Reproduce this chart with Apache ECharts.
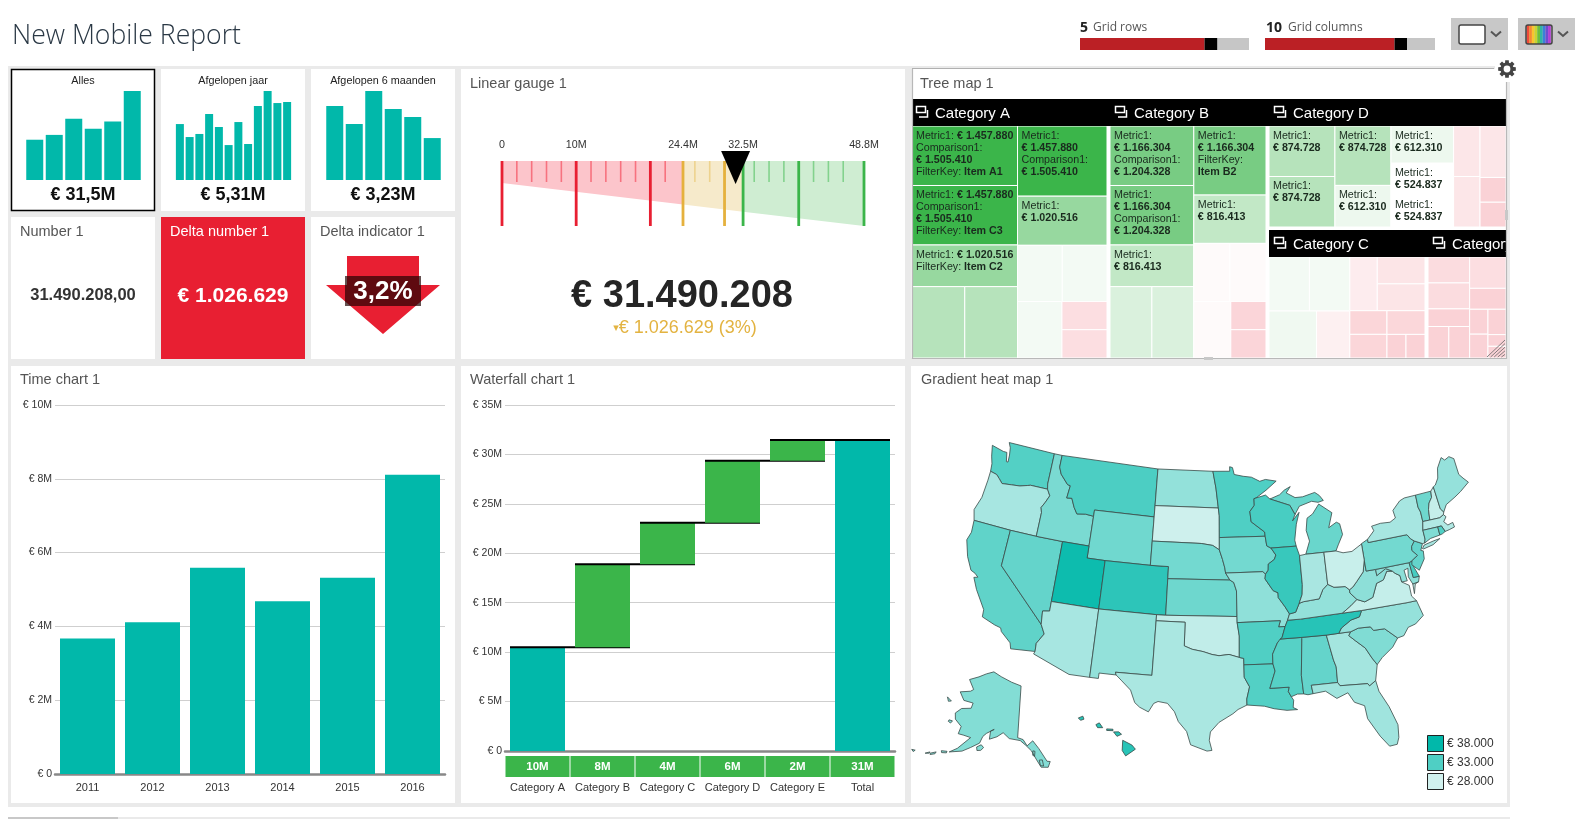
<!DOCTYPE html>
<html>
<head>
<meta charset="utf-8">
<title>New Mobile Report</title>
<style>
    html,body{margin:0;padding:0;background:#fff;overflow:hidden}
    #main{width:1585px;height:819px}
</style>
</head>
<body>
<div id="main"></div>
<script src="https://cdn.jsdelivr.net/npm/echarts@6/dist/echarts.min.js"></script>
<script type="text/javascript">
// small selector charts
const allLabels = ['2011', '2012', '2013', '2014', '2015', '2016'];
const allValues = [3.67, 4.11, 5.59, 4.68, 5.32, 8.11];
const yearLabels = ['jan', 'feb', 'mrt', 'apr', 'mei', 'jun', 'jul', 'aug', 'sep', 'okt', 'nov', 'dec'];
const yearValues = [0.418, 0.321, 0.344, 0.493, 0.396, 0.261, 0.433, 0.269, 0.553, 0.665, 0.575, 0.583];
const halfLabels = ['1', '2', '3', '4', '5', '6'];
const halfValues = [0.605, 0.458, 0.728, 0.581, 0.515, 0.343];

// gauge
const gaugeZones = [[0, 24.4], [24.4, 32.5], [32.5, 48.8]];
const gaugeLabels = [0, 10, 24.4, 32.5, 48.8];
const gaugeMajor = [0, 10, 20, 24.4, 30, 32.5, 40, 48.8];
const gaugeMinor = [2, 4, 6, 8, 12, 14, 16, 18, 22, 26, 28, 34, 36, 38, 42, 44, 46];
const gaugeValue = 31.49;

// waterfall
const fallCategories = ['Category A', 'Category B', 'Category C', 'Category D', 'Category E', 'Total'];
const fallLabels = ['10M', '8M', '4M', '6M', '2M', '31M'];
const fallSteps = [10.49, 8.39, 4.2, 6.29, 2.1, 31.47];
const fallBase = [0, 10.49, 18.88, 23.08, 29.37, 0];

// heat map
const stateNames = ['WA','OR','CA','NV','ID','MT','WY','UT','CO','AZ','NM','ND','SD','NE','KS','OK','TX','MN','IA','MO','AR','LA','MS','AL','GA','FL','SC','NC','TN','KY','VA','WV','MD','DE','PA','NJ','NY','VT','NH','ME','MA','CT','RI','MI','WI','IL','IN','OH','AK','HI'];
const stateValues = [32850,29600,32350,32200,31350,33200,31750,37200,35200,29600,30400,30400,28100,31600,31800,28600,29500,33000,31600,30550,32950,32850,32750,32200,29750,29900,31100,30300,35550,30400,28500,30600,30600,33600,31600,32200,29600,31800,28450,30300,29250,31100,32950,32000,33450,34500,29550,28350,31000,35500];

// tree map leaves: value and cell text
function fmt(v) { return String(v).replace(/\B(?=(\d{3})+$)/g, '.'); }
function L(v, text) { return { v: v, text: text || '' }; }
function H() { return { d: 'h', c: [].slice.call(arguments) }; }
function V() { return { d: 'v', c: [].slice.call(arguments) }; }
function metric(v) { return 'Metric1:\n{b|€ ' + fmt(v) + '}'; }
const M1 = 1457880, M2 = 1166304, M3 = 1020516, M4 = 874728, M5 = 816413, M6 = 612310, M7 = 524837;
const C1 = '€ 1.505.410', C2 = '€ 1.204.328';
const treeA = H(
    V(L(M1, 'Metric1: {b|€ 1.457.880}\nComparison1:\n{b|' + C1 + '}\nFilterKey: {b|Item A1}'),
      L(M1, 'Metric1: {b|€ 1.457.880}\nComparison1:\n{b|' + C1 + '}\nFilterKey: {b|Item C3}'),
      L(M3, 'Metric1: {b|€ 1.020.516}\nFilterKey: {b|Item C2}'),
      H(L(M4), L(M4))),
    V(L(M1, metric(M1) + '\nComparison1:\n{b|' + C1 + '}'),
      L(M3, metric(M3)),
      H(L(583000), L(583000)),
      H(L(583000), V(L(296000), L(296000))))
);
const treeB = H(
    V(L(M2, metric(M2) + '\nComparison1:\n{b|' + C2 + '}'),
      L(M2, metric(M2) + '\nComparison1:\n{b|' + C2 + '}'),
      L(M5, metric(M5)),
      H(L(699782), L(699782))),
    V(L(M2, metric(M2) + '\nFilterKey:\n{b|Item B2}'),
      L(M5, metric(M5)),
      H(L(490000), L(490000)),
      H(L(490000), V(L(233000), L(233000))))
);
const treeD = H(
    V(L(M4, metric(M4)), L(M4, metric(M4))),
    V(L(M4, metric(M4)), L(M6, metric(M6))),
    V(L(M6, metric(M6)), L(M7, metric(M7)), L(M7, metric(M7))),
    V(L(351000), L(351000)),
    V(L(351000), L(169000), L(169000))
);
const treeC = H(
    V(H(L(584000), L(584000)), H(L(597000), L(419000))),
    V(H(L(394000), V(L(343000), L(343000))),
      H(V(L(235000), L(235000)), V(L(241000), H(L(120000), L(120000)))))
);
const treeE = H(
    V(L(277000), L(277000), L(188000), H(L(168000), L(168000))),
    V(L(292000), L(195000), H(V(L(117000), L(112000)), V(L(117000), L(54000), L(54000))))
);
const treeHeaders = ['Category A', 'Category B', 'Category D', 'Category C', 'Category E'];

// US outline, simplified lon/lat
const usa = {
WA:[[[-124.7,48.38],[-123.2,48.15],[-122.75,48.15],[-122.5,47.4],[-122.3,47.4],[-122.35,48],[-122.5,48.6],[-122.8,49],[-117.03,49],[-117.04,46.42],[-116.92,45.995],[-118.98,46],[-119.3,45.93],[-120.2,45.73],[-121.2,45.65],[-122.3,45.55],[-122.8,45.9],[-123.2,46.15],[-124,46.27],[-124.1,46.9],[-124.4,47.5]]],
OR:[[[-124,46.27],[-123.2,46.15],[-122.8,45.9],[-122.3,45.55],[-121.2,45.65],[-120.2,45.73],[-119.3,45.93],[-118.98,46],[-116.92,45.995],[-116.5,45.5],[-116.85,44.9],[-117.2,44.4],[-117.03,44],[-117.03,42],[-120,42],[-124.2,42],[-124.55,42.85],[-124.1,44],[-124,45.5]]],
CA:[[[-124.2,42],[-120,42],[-120,39],[-114.63,35],[-114.15,34.27],[-114.75,33.4],[-114.72,32.72],[-117.12,32.53],[-117.3,33],[-118.4,33.75],[-118.55,34.03],[-119.2,34.15],[-120.6,34.55],[-120.65,35.15],[-121.9,36.6],[-122.5,37.5],[-122.1,37.6],[-122.5,37.85],[-123,38],[-123.75,39],[-124.35,40.3],[-124.1,41]]],
NV:[[[-120,42],[-117.03,42],[-114.04,42],[-114.04,37],[-114.04,36.2],[-114.75,36.1],[-114.63,35],[-120,39]]],
ID:[[[-117.03,49],[-116.05,49],[-116.05,48],[-115.7,47.45],[-114.7,46.7],[-114.35,46.65],[-114.5,45.6],[-113.9,45.65],[-113.45,44.95],[-113,44.45],[-112,44.55],[-111.05,44.48],[-111.05,42],[-114.04,42],[-117.03,42],[-117.03,44],[-117.2,44.4],[-116.85,44.9],[-116.5,45.5],[-116.92,45.995],[-117.04,46.42]]],
MT:[[[-116.05,49],[-104.05,49],[-104.05,45.94],[-104.05,45],[-111.05,45],[-111.05,44.48],[-112,44.55],[-113,44.45],[-113.45,44.95],[-113.9,45.65],[-114.5,45.6],[-114.35,46.65],[-114.7,46.7],[-115.7,47.45],[-116.05,48]]],
WY:[[[-111.05,45],[-104.05,45],[-104.05,43],[-104.05,41],[-109.05,41],[-111.05,41],[-111.05,42],[-111.05,44.48]]],
UT:[[[-114.04,42],[-111.05,42],[-111.05,41],[-109.05,41],[-109.05,37],[-114.04,37]]],
CO:[[[-109.05,41],[-104.05,41],[-102.05,41],[-102.05,40],[-102.05,37],[-103,37],[-109.05,37]]],
AZ:[[[-114.04,37],[-109.05,37],[-109.05,31.33],[-111.07,31.33],[-114.81,32.5],[-114.72,32.72],[-114.75,33.4],[-114.15,34.27],[-114.63,35],[-114.75,36.1],[-114.04,36.2]]],
NM:[[[-109.05,37],[-103,37],[-103,36.5],[-103.05,32],[-106.62,32],[-106.53,31.78],[-108.2,31.78],[-108.2,31.33],[-109.05,31.33]]],
ND:[[[-104.05,49],[-97.23,49],[-96.85,47.6],[-96.56,45.94],[-104.05,45.94]]],
SD:[[[-104.05,45.94],[-96.56,45.94],[-96.45,45.3],[-96.45,43.5],[-96.45,42.49],[-97.2,42.85],[-98.5,43],[-104.05,43]]],
NE:[[[-104.05,43],[-98.5,43],[-97.2,42.85],[-96.45,42.49],[-96.1,41.7],[-95.85,41],[-95.77,40.58],[-95.31,40],[-102.05,40],[-102.05,41],[-104.05,41]]],
KS:[[[-102.05,40],[-95.31,40],[-94.9,39.8],[-94.62,39.1],[-94.62,37],[-102.05,37]]],
OK:[[[-103,37],[-102.05,37],[-94.62,37],[-94.62,36.5],[-94.43,35.4],[-94.48,33.64],[-95.5,33.9],[-96.5,33.8],[-97.2,33.9],[-98.1,34.13],[-99.2,34.3],[-100,34.56],[-100,36.5],[-103,36.5]]],
TX:[[[-106.62,32],[-103.05,32],[-103,36.5],[-100,36.5],[-100,34.56],[-99.2,34.3],[-98.1,34.13],[-97.2,33.9],[-96.5,33.8],[-95.5,33.9],[-94.48,33.64],[-94.04,33.55],[-94.04,33.02],[-94.04,32],[-93.55,31.2],[-93.85,30.2],[-93.85,29.7],[-94.7,29.35],[-95.2,29],[-96.5,28.3],[-97.3,27.5],[-97.4,26.8],[-97.15,25.96],[-97.6,25.9],[-99.1,26.4],[-99.5,27.5],[-100.3,28.3],[-100.7,29.1],[-101.4,29.77],[-102.3,29.88],[-102.7,29.7],[-103.15,28.97],[-104,29.3],[-104.5,29.65],[-105,30.65],[-106,31.4],[-106.53,31.78]]],
MN:[[[-97.23,49],[-95.15,49],[-95.15,49.38],[-94.8,49.3],[-94.6,48.72],[-93.5,48.55],[-92.5,48.45],[-91.5,48.07],[-90.8,48.2],[-89.5,48],[-90.8,47.3],[-92.05,46.7],[-92.3,46.65],[-92.3,46.1],[-92.85,45.6],[-92.75,44.75],[-91.25,43.85],[-91.22,43.5],[-96.45,43.5],[-96.45,45.3],[-96.56,45.94],[-96.85,47.6]]],
IA:[[[-96.45,43.5],[-91.22,43.5],[-91.1,42.7],[-90.64,42.5],[-90.15,41.9],[-90.35,41.55],[-91.05,41.2],[-91.1,40.7],[-91.42,40.38],[-91.7,40.6],[-95.77,40.58],[-95.85,41],[-96.1,41.7],[-96.45,42.49]]],
MO:[[[-95.77,40.58],[-91.7,40.6],[-91.42,40.38],[-91.5,40],[-90.7,39],[-90.2,38.8],[-90.2,38.4],[-89.55,37.6],[-89.15,37],[-89.4,36.5],[-89.7,36],[-90.37,36],[-90.15,36.5],[-94.62,36.5],[-94.62,37],[-94.62,39.1],[-94.9,39.8],[-95.31,40]]],
AR:[[[-94.62,36.5],[-90.15,36.5],[-90.37,36],[-89.7,36],[-90.1,35.1],[-90.6,34.7],[-91.15,33.8],[-91.17,33],[-94.04,33.02],[-94.04,33.55],[-94.48,33.64],[-94.43,35.4]]],
LA:[[[-94.04,33.02],[-91.17,33],[-91,32.4],[-91.6,31],[-89.73,31],[-89.85,30.65],[-89.6,30.2],[-89.4,29.9],[-89.5,29.3],[-89.1,29.1],[-90.1,29.1],[-91.3,29.3],[-92.2,29.55],[-93.85,29.7],[-93.85,30.2],[-93.55,31.2],[-94.04,32]]],
MS:[[[-91.17,33],[-91.15,33.8],[-90.6,34.7],[-90.3,35],[-88.2,35],[-88.1,34.9],[-88.47,31.9],[-88.4,30.35],[-89,30.38],[-89.6,30.2],[-89.85,30.65],[-89.73,31],[-91.6,31],[-91,32.4]]],
AL:[[[-88.2,35],[-85.6,34.98],[-85.18,32.87],[-85,32.3],[-85.05,31],[-87.6,31],[-87.5,30.3],[-88,30.25],[-88.4,30.35],[-88.47,31.9],[-88.1,34.9]]],
GA:[[[-85.6,34.98],[-84.32,35],[-83.1,35],[-83.35,34.7],[-82.75,34.2],[-81.9,33.5],[-81.4,32.6],[-81,32],[-81.4,30.72],[-82.05,30.36],[-82.2,30.57],[-84.86,30.71],[-85.05,31],[-85,32.3],[-85.18,32.87]]],
FL:[[[-87.6,31],[-85.05,31],[-84.86,30.71],[-82.2,30.57],[-82.05,30.36],[-81.4,30.72],[-81.25,29.8],[-80.55,28.4],[-80.03,26.8],[-80.15,25.75],[-80.4,25.2],[-81.1,25.15],[-81.8,26.1],[-82.7,27.7],[-82.8,28.8],[-83.7,29.2],[-84.2,30.05],[-85.3,29.7],[-86.3,30.4],[-87.5,30.3]]],
SC:[[[-83.35,34.7],[-83.1,35],[-82.3,35.2],[-81.05,35.15],[-80.8,34.82],[-79.67,34.8],[-78.55,33.86],[-79.2,33.2],[-80.4,32.5],[-81,32],[-81.4,32.6],[-81.9,33.5],[-82.75,34.2]]],
NC:[[[-84.32,35],[-83.1,35],[-82.3,35.2],[-81.05,35.15],[-80.8,34.82],[-79.67,34.8],[-78.55,33.86],[-77.9,33.95],[-77.3,34.55],[-76.5,34.7],[-75.55,35.25],[-75.9,36.55],[-76.9,36.55],[-81.68,36.59],[-82,36.1],[-82.9,35.95],[-84,35.4]]],
TN:[[[-90.3,35],[-88.2,35],[-85.6,34.98],[-84.32,35],[-84,35.4],[-82.9,35.95],[-82,36.1],[-81.68,36.59],[-83.68,36.6],[-88.05,36.5],[-89.4,36.5],[-89.7,36],[-90.1,35.1]]],
KY:[[[-89.4,36.5],[-88.05,36.5],[-83.68,36.6],[-82.7,37.1],[-81.97,37.54],[-82.6,38.15],[-82.6,38.42],[-83,38.73],[-84.2,38.8],[-84.82,39.1],[-85.4,38.73],[-85.9,38],[-86.8,37.95],[-87.6,37.9],[-88.05,37.8],[-88.5,37.1],[-89.15,37]]],
VA:[[[-83.68,36.6],[-81.68,36.59],[-76.9,36.55],[-75.9,36.55],[-76.3,37],[-76.3,37.9],[-77,38.3],[-77.05,38.85],[-77.5,39.1],[-77.75,39.33],[-78.35,39.4],[-78.87,38.76],[-79.65,38.58],[-80.3,37.5],[-81.2,37.25],[-81.97,37.54],[-82.7,37.1]],[[-75.95,37.15],[-75.65,37.9],[-75.25,38.03],[-75.9,37.95]]],
WV:[[[-81.97,37.54],[-81.2,37.25],[-80.3,37.5],[-79.65,38.58],[-78.87,38.76],[-78.35,39.4],[-77.75,39.33],[-78.4,39.63],[-79.48,39.2],[-79.48,39.72],[-80.52,39.72],[-80.52,40.64],[-80.85,39.7],[-81.7,39],[-82.2,38.6],[-82.6,38.42],[-82.6,38.15]]],
MD:[[[-79.48,39.72],[-75.79,39.72],[-75.7,38.46],[-75.05,38.45],[-75.25,38.03],[-75.9,37.95],[-76.2,38.6],[-76.05,39.3],[-76.5,39.2],[-76.4,38.3],[-77,38.3],[-77.05,38.85],[-77.5,39.1],[-77.75,39.33],[-78.4,39.63],[-79.48,39.2]]],
DE:[[[-75.79,39.72],[-75.45,39.82],[-75.4,39.3],[-75.05,38.45],[-75.7,38.46]]],
PA:[[[-80.52,40.64],[-80.52,42],[-79.76,42.27],[-79.76,42],[-75.35,42],[-75.05,41.6],[-74.7,41.36],[-75.13,40.97],[-75.2,40.65],[-74.72,40.15],[-75.45,39.82],[-75.79,39.72],[-79.48,39.72],[-80.52,39.72]]],
NJ:[[[-74.7,41.36],[-73.9,41],[-74.25,40.48],[-74,40.4],[-74.1,39.75],[-74.9,38.93],[-75.55,39.5],[-75.45,39.82],[-74.72,40.15],[-75.2,40.65],[-75.13,40.97]]],
NY:[[[-79.76,42.27],[-79.76,42],[-75.35,42],[-75.05,41.6],[-74.7,41.36],[-73.9,41],[-73.65,41],[-73.5,41.3],[-73.5,42.05],[-73.27,42.75],[-73.25,43.55],[-73.4,44],[-73.34,45.01],[-74.7,45],[-75.3,44.85],[-76.3,44.2],[-76.2,43.55],[-76.9,43.3],[-78,43.37],[-79.05,43.27],[-78.9,42.87]],[[-74.03,40.6],[-73.75,40.85],[-72.6,41],[-71.9,41.05],[-72.8,40.7],[-73.9,40.55]]],
VT:[[[-73.34,45.01],[-71.5,45.01],[-71.6,44.5],[-72.05,44.1],[-72.3,43.6],[-72.46,42.73],[-73.27,42.75],[-73.25,43.55],[-73.4,44]]],
NH:[[[-71.5,45.01],[-71.08,45.3],[-70.98,43.4],[-70.7,43.07],[-70.82,42.87],[-71.3,42.7],[-72.46,42.73],[-72.3,43.6],[-72.05,44.1],[-71.6,44.5]]],
ME:[[[-71.08,45.3],[-70.8,45.4],[-70.3,45.9],[-70,46.7],[-69.23,47.46],[-68.9,47.18],[-68.3,47.35],[-67.8,47.07],[-67.8,45.7],[-67.45,45.3],[-67,44.85],[-68.2,44.3],[-69,44],[-70.2,43.6],[-70.7,43.07],[-70.98,43.4]]],
MA:[[[-73.5,42.05],[-73.27,42.75],[-72.46,42.73],[-71.3,42.7],[-70.82,42.87],[-70.6,42.65],[-71,42.3],[-70.65,41.95],[-70.05,42.05],[-70,41.65],[-70.65,41.55],[-71.13,41.5],[-71.38,42.02],[-71.8,42.02]]],
CT:[[[-73.5,42.05],[-71.8,42.02],[-71.8,41.33],[-72.9,41.25],[-73.65,41],[-73.5,41.3]]],
RI:[[[-71.8,42.02],[-71.38,42.02],[-71.13,41.5],[-71.5,41.37],[-71.8,41.33]]],
MI:[[[-86.82,41.76],[-84.8,41.75],[-83.45,41.73],[-83.1,42.2],[-82.45,43],[-82.6,43.9],[-82.95,44.07],[-83.9,43.7],[-83.3,44.9],[-84.7,45.75],[-85.55,45],[-86.25,44.7],[-86.5,43.7],[-86.25,42.8]],[[-90.4,46.55],[-88.1,45.9],[-87.6,45.1],[-87,45.75],[-85.5,46.05],[-84.75,45.9],[-84.1,46],[-84.5,46.45],[-85,46.75],[-86.5,46.5],[-87.4,46.5],[-88.4,46.95],[-87.85,47.45],[-88.6,47.2],[-89.2,46.85]]],
WI:[[[-92.3,46.65],[-92.05,46.7],[-90.9,46.9],[-90.4,46.55],[-88.1,45.9],[-87.6,45.1],[-87.95,44.6],[-87.1,45.25],[-87.55,44.3],[-87.9,43],[-87.8,42.5],[-90.64,42.5],[-91.1,42.7],[-91.22,43.5],[-91.25,43.85],[-92.75,44.75],[-92.85,45.6],[-92.3,46.1]]],
IL:[[[-90.64,42.5],[-87.8,42.5],[-87.53,41.7],[-87.53,39.3],[-87.65,38.5],[-88.05,37.8],[-88.5,37.1],[-89.15,37],[-89.55,37.6],[-90.2,38.4],[-90.2,38.8],[-90.7,39],[-91.5,40],[-91.42,40.38],[-91.1,40.7],[-91.05,41.2],[-90.35,41.55],[-90.15,41.9]]],
IN:[[[-87.53,41.7],[-86.82,41.76],[-84.8,41.75],[-84.82,39.1],[-85.4,38.73],[-85.9,38],[-86.8,37.95],[-87.6,37.9],[-88.05,37.8],[-87.65,38.5],[-87.53,39.3]]],
OH:[[[-84.8,41.75],[-83.45,41.73],[-82.7,41.5],[-81.7,41.5],[-80.52,41.98],[-80.52,40.64],[-80.85,39.7],[-81.7,39],[-82.2,38.6],[-82.6,38.42],[-83,38.73],[-84.2,38.8],[-84.82,39.1]]],
AK:[[[-141,69.65],[-141,60.3],[-139,60],[-137.5,58.9],[-135.5,59.8],[-133.5,58.4],[-131,56],[-130,55.9],[-130.8,54.9],[-133,55],[-134.5,56.5],[-136,58],[-138,59],[-140,59.8],[-144,60],[-146.5,60.9],[-148.5,60],[-151,59.3],[-151.2,60.8],[-150,61.2],[-152.5,60.2],[-153.5,59.5],[-154,58.2],[-156.5,57],[-158.8,55.9],[-162.5,54.95],[-160.5,56.1],[-157.5,58.7],[-160,58.7],[-162,58.6],[-162,60],[-165,60.8],[-166,61.8],[-164.5,63],[-161,63.7],[-161,64.7],[-165,64.5],[-168,65.6],[-164,66.5],[-163,67],[-166.7,68.35],[-163,69.5],[-160,70.5],[-156.5,71.3],[-152,70.8],[-146,70.15]],[[-152.3,57.6],[-153.3,58],[-154.6,57.4],[-154.2,56.8],[-153,57]],[[-164.9,54.6],[-163.2,54.9],[-163.2,54.6],[-164.6,54.3]],[[-167.7,53.3],[-166.2,54],[-166.3,53.6],[-167.5,53.1]],[[-169,52.9],[-167.9,53.5],[-168,53.2]],[[-173,52.3],[-172,52.5],[-172.3,52.1]],[[-167,60.2],[-165.7,60.3],[-166,59.8],[-167,59.9]],[[-171.7,63.7],[-169.5,63.4],[-170.5,63.1]],[[-135.5,58],[-134.8,57.9],[-135,57],[-135.6,57.2]],[[-133.5,56.3],[-132.5,56.3],[-132.2,55.2],[-133.2,55.3]]],
HI:[[[-159.8,22.1],[-159.4,22.25],[-159.3,22],[-159.6,21.9]],[[-158.25,21.55],[-157.95,21.7],[-157.65,21.3],[-158.1,21.3]],[[-157.3,21.2],[-156.75,21.17],[-156.75,21.05],[-157.3,21.07]],[[-156.7,20.95],[-156.25,20.95],[-156,20.75],[-156.4,20.58]],[[-155.9,20.25],[-155.1,19.85],[-154.8,19.5],[-155.65,18.95],[-155.95,19.4]]]
};

// conic equal-area, Alaska and Hawaii moved next to the mainland
function albers(p, p1, p2, lon0, lat0) {
    const r = Math.PI / 180, s1 = Math.sin(p1 * r), n = (s1 + Math.sin(p2 * r)) / 2;
    const C = Math.cos(p1 * r) * Math.cos(p1 * r) + 2 * n * s1;
    const rho0 = Math.sqrt(C - 2 * n * Math.sin(lat0 * r)) / n;
    const rho = Math.sqrt(C - 2 * n * Math.sin(p[1] * r)) / n, th = n * (p[0] - lon0) * r;
    return [rho * Math.sin(th), rho0 - rho * Math.cos(th)];
}
function projectState(name, p) {
    if (name === 'AK') {
        // turned about 15 degrees, the panhandle hangs lower than the peninsula
        const a = albers(p, 55, 65, -154, 58.5);
        return [0.457 * (0.966 * a[0] + 0.2588 * a[1]) - 0.342, 0.4595 * (-0.2588 * a[0] + 0.966 * a[1]) - 0.2103];
    }
    if (name === 'HI') {
        const h = albers(p, 8, 18, -157, 19.9);
        return [h[0] - 0.155, h[1] - 0.2146];
    }
    return albers(p, 29.5, 45.5, -96.6, 38.7);
}
const mapKX = 696, mapKY = 692, mapX = 1218, mapY = 596;
let minX = 9, maxX = -9, minY = 9, maxY = -9;
const usaFeatures = stateNames.map(function (name) {
    const polys = usa[name].map(function (ring) {
        return [ring.concat([ring[0]]).map(function (p) {
            const q = projectState(name, p);
            minX = Math.min(minX, q[0]); maxX = Math.max(maxX, q[0]);
            minY = Math.min(minY, q[1]); maxY = Math.max(maxY, q[1]);
            return q;
        })];
    });
    return { type: 'Feature', properties: { name: name }, geometry: { type: 'MultiPolygon', coordinates: polys } };
});
echarts.registerMap('USA', { type: 'FeatureCollection', features: usaFeatures });

// tree map layout, cell sizes come from the values
function total(n) { return n.c ? n.c.reduce(function (s, k) { return s + total(k); }, 0) : n.v; }
function sliceTree(n, x, y, w, h, out) {
    if (!n.c) { out.push({ x: x, y: y, w: w, h: h, v: n.v, text: n.text }); return; }
    const sum = total(n);
    let pos = 0;
    n.c.forEach(function (k) {
        const f = total(k) / sum;
        if (n.d === 'h') sliceTree(k, x + pos * w, y, w * f, h, out);
        else sliceTree(k, x, y + pos * h, w, h * f, out);
        pos += f;
    });
}
function cellColor(v) {
    const mid = 524837;
    let c, t;
    if (v >= mid) { c = [59, 181, 74]; t = (v - mid) / (1457880 - mid); }
    else { c = [232, 31, 50]; t = Math.min(0.2, (mid - v) / 1574511); }
    return 'rgb(' + c.map(function (ch) { return Math.round(255 + (ch - 255) * t); }).join(',') + ')';
}
const treeCells = [];
sliceTree(treeA, 912, 126, 195, 232, treeCells);
sliceTree(treeB, 1110, 126, 156, 232, treeCells);
sliceTree(treeD, 1269, 126, 237, 101, treeCells);
sliceTree(treeC, 1269, 257, 156, 101, treeCells);
sliceTree(treeE, 1428, 257, 78, 101, treeCells);

const base = '"Liberation Sans", Arial, sans-serif';
const teal = '#01B8AA', green = '#3BB54A', red = '#E81F32', amber = '#E5B13D';
const zoneColor = [red, amber, green];
const zoneLight = ['#FCC5CB', '#F6EACB', '#CFEDD2'];
const minorColor = ['#F7727F', '#EDD28E', '#83D28D'];
function zoneOf(v) { return v < 24.4 ? 0 : v < 32.5 ? 1 : 2; }
function wedge(v) { return 22 + 43 * v / 48.8; }

// page furniture
const g = [];
function rect(x, y, w, h, fill, z, extra) {
    g.push(Object.assign({ type: 'rect', shape: { x: x, y: y, width: w, height: h }, style: { fill: fill }, z: z || 0, silent: true }, extra || {}));
}
function txt(x, y, text, font, fill, align, z, extra) {
    g.push({ type: 'text', x: x, y: y, z: z || 1, silent: true, style: Object.assign({ text: text, font: font, fill: fill || '#444', textAlign: align || 'left', textVerticalAlign: 'middle' }, extra || {}) });
}
function line(points, color, width, z) {
    g.push({ type: 'polyline', shape: { points: points }, style: { stroke: color, lineWidth: width, fill: null }, z: z || 1, silent: true });
}

rect(8, 66, 1502, 741, '#EAEAEA');
[[11, 69, 144, 142], [161, 69, 144, 142], [311, 69, 144, 142], [11, 217, 144, 142], [311, 217, 144, 142],
 [461, 69, 444, 290], [912, 69, 594, 289], [11, 366, 444, 437], [461, 366, 444, 437], [911, 366, 596, 437]].forEach(function (p) {
    rect(p[0], p[1], p[2], p[3], '#fff');
});
rect(161, 217, 144, 142, red);
rect(8, 817, 1502, 2, '#EAEAEA');
rect(8, 817, 110, 2, '#C8C8C8');
rect(11.5, 69.5, 143, 141, 'none', 1, { style: { fill: 'none', stroke: '#000', lineWidth: 1.5 } });

// tree map frame, open around the gear
rect(1495, 64, 16, 18, '#fff', 1);
line([[912, 68.5], [1494, 68.5]], '#B0B0B0', 1.2, 6);
line([[912.5, 69], [912.5, 358.5], [1506.5, 358.5], [1506.5, 82]], '#B8B8B8', 1.2, 6);
const gearPts = [];
for (let i = 0; i < 8; i++) {
    const a = i * Math.PI / 4;
    [[-0.3, 6.6], [-0.2, 9], [0.2, 9], [0.3, 6.6]].forEach(function (t) {
        gearPts.push([1507 + t[1] * Math.sin(a + t[0]), 69 - t[1] * Math.cos(a + t[0])]);
    });
}
g.push({ type: 'polygon', shape: { points: gearPts }, style: { fill: '#444' }, z: 7, silent: true });
g.push({ type: 'circle', shape: { cx: 1507, cy: 69, r: 3.4 }, style: { fill: '#fff' }, z: 8, silent: true });

txt(12, 36, 'New Mobile Report', '300 26.6px "Open Sans"', '#2A3845');
txt(1080, 28, '5', 'bold 14px "Open Sans"', '#222');
txt(1093, 28, 'Grid rows', '12px "Open Sans"', '#555');
txt(1266, 28, '10', 'bold 14px "Open Sans"', '#222');
txt(1288, 28, 'Grid columns', '12px "Open Sans"', '#555');
[[1080, 1204.5, 1217.5, 1249], [1265, 1394.5, 1407, 1435]].forEach(function (s) {
    rect(s[0], 38, s[1] - s[0], 12, '#BB2025');
    rect(s[1], 38, s[2] - s[1], 12, '#000');
    rect(s[2], 38, s[3] - s[2], 12, '#C6C6C6');
});
rect(1451, 18, 57, 32, '#C8C8C8');
rect(1518, 18, 57, 32, '#C8C8C8');
g.push({ type: 'rect', shape: { x: 1459, y: 25, width: 26, height: 19, r: 2 }, style: { fill: '#fff', stroke: '#444', lineWidth: 1.5 }, z: 1, silent: true });
['#EF4B3A', '#F58A2E', '#F7C52E', '#C8D42F', '#6CBF3C', '#2FB5A5', '#3C7FD9', '#6A4FD0', '#B23FD6'].forEach(function (c, i) {
    rect(1526.5 + i * 2.7, 25, 2.7, 19, c, 1);
});
g.push({ type: 'rect', shape: { x: 1526, y: 25, width: 26, height: 19, r: 2 }, style: { fill: 'none', stroke: '#444', lineWidth: 1.5 }, z: 2, silent: true });
line([[1491, 31.5], [1496, 36], [1501, 31.5]], '#555', 2);
line([[1558, 31.5], [1563, 36], [1568, 31.5]], '#555', 2);

txt(83, 81, 'Alles', '10.8px ' + base, '#222', 'center');
txt(233, 81, 'Afgelopen jaar', '10.8px ' + base, '#222', 'center');
txt(383, 81, 'Afgelopen 6 maanden', '10.8px ' + base, '#222', 'center');
txt(83, 195, '€ 31,5M', 'bold 18px ' + base, '#111', 'center');
txt(233, 195, '€ 5,31M', 'bold 18px ' + base, '#111', 'center');
txt(383, 195, '€ 3,23M', 'bold 18px ' + base, '#111', 'center');
txt(20, 232, 'Number 1', '14.5px ' + base, '#555');
txt(170, 232, 'Delta number 1', '14.5px ' + base, '#fff');
txt(320, 232, 'Delta indicator 1', '14.5px ' + base, '#555');
txt(83, 295, '31.490.208,00', 'bold 16.5px ' + base, '#333', 'center');
txt(233, 296, '€ 1.026.629', 'bold 21px ' + base, '#fff', 'center');
g.push({ type: 'polygon', shape: { points: [[347, 256], [419, 256], [419, 285], [440, 285], [383, 334], [326, 285], [347, 285]] }, style: { fill: red }, z: 1, silent: true });
rect(345, 276, 76, 30, 'rgba(30,0,0,0.68)', 2);
txt(383, 292, '3,2%', 'bold 26px ' + base, '#fff', 'center', 3);

txt(470, 84, 'Linear gauge 1', '14.5px ' + base, '#555');
txt(682, 297, '€ 31.490.208', 'bold 38px ' + base, '#252525', 'center');
txt(685, 328, '{t|▾}€ 1.026.629 (3%)', '18px ' + base, '#E3B341', 'center', 1, { rich: { t: { fontSize: 11, fill: '#E3B341', fontFamily: 'DejaVu Sans' } } });
txt(920, 84, 'Tree map 1', '14.5px ' + base, '#555');
txt(20, 380, 'Time chart 1', '14.5px ' + base, '#555');
txt(470, 380, 'Waterfall chart 1', '14.5px ' + base, '#555');
txt(921, 380, 'Gradient heat map 1', '14.5px ' + base, '#555');

// tree map headers
rect(912, 99, 594.5, 27, '#000', 4);
rect(1269, 230, 237.5, 27, '#000', 4);
[[treeHeaders[0], 916, 113], [treeHeaders[1], 1115, 113], [treeHeaders[2], 1274, 113], [treeHeaders[3], 1274, 244], [treeHeaders[4], 1433, 244]].forEach(function (h) {
    rect(h[1] + 0.5, h[2] - 6.5, 9, 6, 'none', 5, { style: { fill: 'none', stroke: '#fff', lineWidth: 1.5 } });
    line([[h[1] + 11.5, h[2] - 3], [h[1] + 11.5, h[2] + 4], [h[1] + 3, h[2] + 4]], '#fff', 1.5, 5);
    txt(h[1] + 19, h[2] + 1, h[0], '15px ' + base, '#fff', 'left', 5);
});
// last header runs off the panel
rect(1507, 234, 3, 20, '#EAEAEA', 6);
rect(1510, 234, 30, 20, '#fff', 6);
[0, 1, 2, 3, 4].forEach(function (i) {
    line([[1487 + i * 3.6, 357], [1505, 340 + i * 3.6]], '#666', 0.8, 6);
});
rect(1505, 210, 3, 10, '#C8C8C8', 6);
rect(1204, 357, 9, 3, '#C8C8C8', 6);

// map legend
[[735, teal, '€ 38.000'], [754, '#4FCFC4', '€ 33.000'], [773, '#D1F1EE', '€ 28.000']].forEach(function (k) {
    rect(1427.5, k[0] + 0.5, 16, 16, k[1], 1, { style: { fill: k[1], stroke: '#222', lineWidth: 1 } });
    txt(1447, k[0] + 8.5, k[2], '12px ' + base, '#333');
});

function hiddenAxes(grid) {
    return {
        x: { type: 'category', gridIndex: grid, show: false },
        y: { type: 'value', gridIndex: grid, show: false, min: 0 }
    };
}
function miniBar(index, labels, values, barWidth) {
    return { type: 'bar', xAxisIndex: index, yAxisIndex: index, data: values, barWidth: barWidth, itemStyle: { color: teal } };
}
const euro = function (v) { return v === 0 ? '€ 0' : '€ ' + v + 'M'; };

const a0 = hiddenAxes(0), a1 = hiddenAxes(1), a2 = hiddenAxes(2);
a0.x.data = allLabels; a1.x.data = yearLabels; a2.x.data = halfLabels;
a0.y.max = 8.11; a1.y.max = 0.665; a2.y.max = 0.728;

const option = {
    animation: false,
    backgroundColor: '#fff',
    textStyle: { fontFamily: base },
    graphic: { elements: g },
    visualMap: { show: false, seriesIndex: 8, min: 28000, max: 38000, inRange: { color: ['#D1F1EE', '#4FCFC4', teal] } },
    grid: [
        { left: 25, top: 91, width: 117, height: 89 },
        { left: 175, top: 91, width: 117, height: 89 },
        { left: 325, top: 91, width: 117, height: 89 },
        { left: 502, top: 161, width: 362, height: 65 },
        { left: 55, top: 405, width: 390, height: 369 },
        { left: 505, top: 405, width: 390, height: 346 }
    ],
    xAxis: [
        a0.x, a1.x, a2.x,
        {
            type: 'value', gridIndex: 3, position: 'top', min: 0, max: 48.8,
            splitLine: { show: false }, axisLine: { show: false }, axisTick: { show: false },
            axisLabel: {
                customValues: gaugeLabels, margin: 10, fontSize: 10.7, color: '#333', hideOverlap: false,
                formatter: function (v) { return v === 0 ? '0' : v + 'M'; }
            }
        },
        {
            type: 'category', gridIndex: 4, data: allLabels,
            axisTick: { show: false }, axisLine: { lineStyle: { color: '#888', width: 2.5 } },
            axisLabel: { color: '#333', fontSize: 11, margin: 8 }
        },
        {
            type: 'category', gridIndex: 5, data: fallCategories,
            axisTick: { show: false }, axisLine: { lineStyle: { color: '#888', width: 2.5 } },
            axisLabel: {
                interval: 0, margin: 5,
                formatter: function (v, i) { return '{v|' + fallLabels[i] + '}\n{c|' + v + '}'; },
                rich: {
                    v: { backgroundColor: green, color: '#fff', fontWeight: 'bold', fontSize: 11.5, width: 64, height: 21, lineHeight: 21, align: 'center' },
                    c: { color: '#333', fontSize: 11, lineHeight: 21, align: 'center' }
                }
            }
        }
    ],
    yAxis: [
        a0.y, a1.y, a2.y,
        { type: 'value', gridIndex: 3, min: 0, max: 65, inverse: true, show: false },
        {
            type: 'value', gridIndex: 4, min: 0, max: 10, interval: 2,
            axisLine: { show: false }, axisTick: { show: false },
            axisLabel: { color: '#333', fontSize: 10.5, margin: 3, formatter: euro },
            splitLine: { lineStyle: { color: '#CFCFCF' } }
        },
        {
            type: 'value', gridIndex: 5, min: 0, max: 35, interval: 5,
            axisLine: { show: false }, axisTick: { show: false },
            axisLabel: { color: '#333', fontSize: 10.5, margin: 3, formatter: euro },
            splitLine: { lineStyle: { color: '#CFCFCF' } }
        }
    ],
    series: [
        miniBar(0, allLabels, allValues, 17),
        miniBar(1, yearLabels, yearValues, 8),
        miniBar(2, halfLabels, halfValues, 17),
        // gauge bands and ticks
        {
            type: 'custom', xAxisIndex: 3, yAxisIndex: 3, clip: false, z: 3,
            data: gaugeZones.map(function (z, i) { return [z[0], z[1], i]; }),
            renderItem: function (params, api) {
                const a = api.value(0), b = api.value(1), i = api.value(2);
                return {
                    type: 'polygon',
                    shape: { points: [api.coord([a, 0]), api.coord([b, 0]), api.coord([b, wedge(b)]), api.coord([a, wedge(a)])] },
                    style: { fill: zoneLight[i] }
                };
            }
        },
        {
            type: 'custom', xAxisIndex: 3, yAxisIndex: 3, clip: false, z: 4,
            data: gaugeMajor.map(function (v) { return [v, 65, 2.8, 0]; }).concat(gaugeMinor.map(function (v) { return [v, 21, 1.6, 1]; })),
            renderItem: function (params, api) {
                const v = api.value(0), a = api.coord([v, 0]), b = api.coord([v, api.value(1)]);
                const zone = zoneOf(v);
                return {
                    type: 'line',
                    shape: { x1: a[0], y1: a[1], x2: b[0], y2: b[1] },
                    style: { stroke: api.value(3) ? minorColor[zone] : zoneColor[zone], lineWidth: api.value(2) }
                };
            }
        },
        {
            type: 'scatter', xAxisIndex: 3, yAxisIndex: 3, clip: false, z: 5,
            symbol: 'triangle', symbolRotate: 180, symbolSize: [29, 33],
            itemStyle: { color: '#000', opacity: 1 },
            data: [[gaugeValue, 6.5]]
        },
        { type: 'bar', xAxisIndex: 4, yAxisIndex: 4, data: allValues, barWidth: 55, itemStyle: { color: teal } },
        // waterfall
        {
            type: 'custom', xAxisIndex: 5, yAxisIndex: 5, z: 3, clip: false,
            data: fallSteps.map(function (s, i) { return [i, fallBase[i], fallBase[i] + s]; }),
            renderItem: function (params, api) {
                const i = api.value(0), lo = api.coord([i, api.value(1)]), hi = api.coord([i, api.value(2)]);
                const band = api.size([1, 0])[0], half = 27.5, last = i === fallSteps.length - 1;
                return {
                    type: 'group',
                    children: [
                        {
                            type: 'rect',
                            shape: { x: lo[0] - half, y: hi[1], width: half * 2, height: lo[1] - hi[1] },
                            style: { fill: (i === 0 || last) ? teal : green }
                        },
                        {
                            type: 'line',
                            shape: { x1: lo[0] - half, y1: hi[1], x2: lo[0] + half + (last ? 0 : band), y2: hi[1] },
                            style: { stroke: '#000', lineWidth: 2 }
                        }
                    ]
                };
            }
        },
        {
            type: 'map', map: 'USA', silent: true, aspectScale: mapKX / mapKY, roam: false, z: 3,
            left: mapX + minX * mapKX, top: mapY - maxY * mapKY,
            width: (maxX - minX) * mapKX, height: (maxY - minY) * mapKY,
            label: { show: false },
            itemStyle: { borderColor: '#3A4A48', borderWidth: 0.8 },
            data: stateNames.map(function (n, i) { return { name: n, value: stateValues[i] }; })
        },
        // tree map cells
        {
            type: 'custom', coordinateSystem: 'none', z: 3, clip: false,
            data: treeCells.map(function (c, i) { return [i]; }),
            renderItem: function (params) {
                const c = treeCells[params.dataIndex];
                const kids = [{
                    type: 'rect',
                    shape: { x: c.x, y: c.y, width: c.w, height: c.h },
                    style: { fill: cellColor(c.v), stroke: '#fff', lineWidth: 1 }
                }];
                if (c.text) {
                    kids.push({
                        type: 'text',
                        style: {
                            x: c.x + 4, y: c.y + 4, text: c.text, fill: '#1A2A1E', fontSize: 10.7, fontFamily: 'Liberation Sans', lineHeight: 12,
                            rich: { b: { fontWeight: 'bold', fontSize: 10.7, fontFamily: 'Liberation Sans', fill: '#1A2A1E', lineHeight: 12 } }
                        }
                    });
                }
                return { type: 'group', children: kids };
            }
        }
    ]
};

const chart = echarts.init(document.getElementById('main'));
chart.setOption(option);
</script>
</body>
</html>
